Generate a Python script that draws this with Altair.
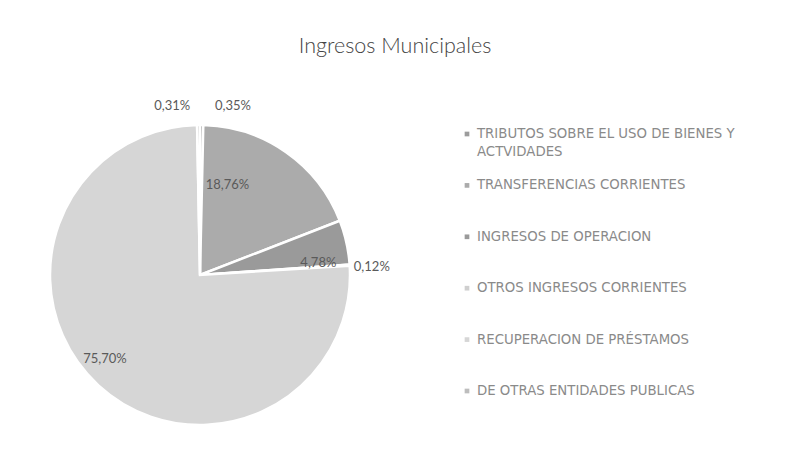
import math
import altair as alt
import pandas as pd

# ---- data ----
names = [
    "TRIBUTOS SOBRE EL USO DE BIENES Y ACTVIDADES",
    "TRANSFERENCIAS CORRIENTES",
    "INGRESOS DE OPERACION",
    "OTROS INGRESOS CORRIENTES",
    "RECUPERACION DE PRÉSTAMOS",
    "DE OTRAS ENTIDADES PUBLICAS",
]
values = [0.35, 18.76, 4.78, 0.12, 75.70, 0.31]
legend_text = [
    "TRIBUTOS SOBRE EL USO DE BIENES Y\nACTVIDADES",
    "TRANSFERENCIAS CORRIENTES",
    "INGRESOS DE OPERACION",
    "OTROS INGRESOS CORRIENTES",
    "RECUPERACION DE PRÉSTAMOS",
    "DE OTRAS ENTIDADES PUBLICAS",
]

# ---- styling / layout (not data) ----
colors = ["#9c9c9c", "#ababab", "#9a9a9a", "#cfcfcf", "#d6d6d6", "#bdbdbd"]
# label placement: angular nudge (deg) from slice middle, distance from centre (px)
label_nudge = [10.4, -18.0, 6.6, 1.1, 5.8, -8.8]
label_radius = [172, 94, 119, 172, 127, 171]

CX, CY, R = 192, 206, 150
FONT = "Lato"

df = pd.DataFrame({
    "name": names,
    "value": values,
    "idx": list(range(len(names))),
    "legend": legend_text,
    "nudge": label_nudge,
    "lr": label_radius,
})

color = alt.Color("name:N", scale=alt.Scale(domain=names, range=colors), legend=None)
base = alt.Chart(df)

pie = base.mark_arc(outerRadius=R, stroke="white", strokeWidth=2.5).encode(
    theta=alt.Theta("value:Q", stack=True),
    color=color,
    order=alt.Order("idx:Q"),
    x=alt.value(CX),
    y=alt.value(CY),
)

labels = (
    base.transform_joinaggregate(total="sum(value)")
    .transform_window(cum="sum(value)", sort=[alt.SortField("idx")], frame=[None, 0])
    .transform_calculate(
        ang="((datum.cum - datum.value / 2) / datum.total) * 2 * PI + datum.nudge * PI / 180",
        txt="replace(format(datum.value, '.2f'), '.', ',') + '%'",
    )
    .mark_text(font=FONT, fontSize=13, color="#5a5a5a")
    .encode(
        theta=alt.Theta("ang:Q", scale=None),
        radius=alt.Radius("lr:Q", scale=None),
        text="txt:N",
        x=alt.value(CX),
        y=alt.value(CY),
    )
)

ypos = alt.Y("name:N", scale=alt.Scale(domain=names, range=[65, 322], padding=0), axis=None)

leg_sym = base.mark_square(size=22, opacity=1).encode(
    x=alt.value(459), y=ypos, color=color
)
leg_txt = base.mark_text(
    font="DejaVu Sans", fontSize=13.3, color="#8a8a8a", align="left", baseline="line-top",
    lineBreak="\n", lineHeight=18, dy=-9,
).encode(x=alt.value(469), y=ypos, text="legend:N")

chart = (
    alt.layer(pie, labels, leg_sym, leg_txt)
    .properties(
        width=774,
        height=458,
        autosize=alt.AutoSizeParams(type="fit", contains="padding"),
        padding={"left": 0, "right": 0, "top": 27, "bottom": 0},
        background="white",
        title=alt.Title(
            "Ingresos Municipales", font=FONT, fontSize=21.5, fontWeight=300,
            color="#444444", anchor="middle", offset=12,
        ),
    )
    .configure_view(stroke=None, strokeWidth=0)
)

chart.save("out.html", embed_options={"renderer": "svg", "actions": False})
